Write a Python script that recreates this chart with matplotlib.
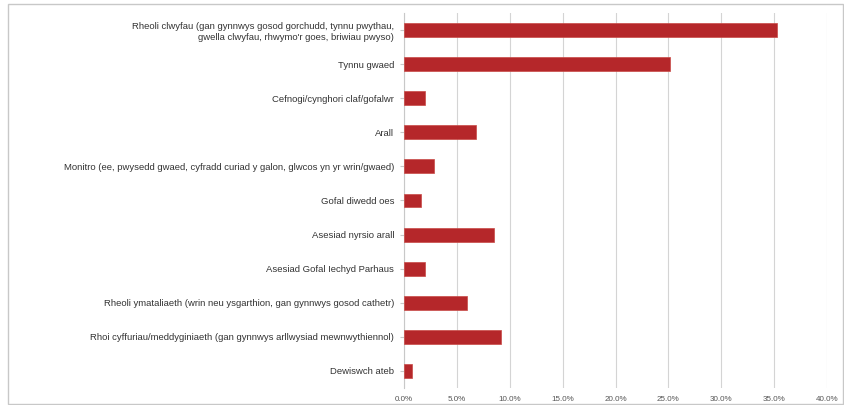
import matplotlib
matplotlib.use("Agg")
import matplotlib.pyplot as plt
from matplotlib.patches import Rectangle

categories = [
    "Rheoli clwyfau (gan gynnwys gosod gorchudd, tynnu pwythau,\ngwella clwyfau, rhwymo'r goes, briwiau pwyso)",
    "Tynnu gwaed",
    "Cefnogi/cynghori claf/gofalwr",
    "Arall",
    "Monitro (ee, pwysedd gwaed, cyfradd curiad y galon, glwcos yn yr wrin/gwaed)",
    "Gofal diwedd oes",
    "Asesiad nyrsio arall",
    "Asesiad Gofal Iechyd Parhaus",
    "Rheoli ymataliaeth (wrin neu ysgarthion, gan gynnwys gosod cathetr)",
    "Rhoi cyffuriau/meddyginiaeth (gan gynnwys arllwysiad mewnwythiennol)",
    "Dewiswch ateb",
]
values = [35.3, 25.2, 2.0, 6.8, 2.8, 1.6, 8.5, 2.0, 6.0, 9.2, 0.8]
ticks = [0, 5, 10, 15, 20, 25, 30, 35, 40]
tick_labels = ["0.0%", "5.0%", "10.0%", "15.0%", "20.0%", "25.0%", "30.0%", "35.0%", "40.0%"]

plt.rcParams['font.family'] = ['Liberation Sans', 'DejaVu Sans']

W, H = 845, 405
fig = plt.figure(figsize=(W / 100, H / 100), dpi=100)
fig.patch.set_facecolor("white")

# outer frame
fig.add_artist(Rectangle((8 / W, 1 / H), (843 - 8) / W, (401 - 1) / H,
                         transform=fig.transFigure, fill=False,
                         edgecolor="#c8c8c8", linewidth=1.0))

ax = fig.add_axes([404 / W, 1 - 388 / H, (827 - 404) / W, (388 - 13) / H])
ypos = list(range(len(categories)))
ax.barh(ypos, values, height=0.41, color="#B5272A", edgecolor="#C94A45",
        linewidth=0.5, zorder=3)
ax.set_ylim(len(categories) - 0.5, -0.5)
ax.set_xlim(0, 40)
ax.set_xticks(ticks)
ax.set_xticklabels(tick_labels, fontsize=5.8, color="#555555")
ax.set_yticks(ypos)
ax.set_yticklabels(categories, fontsize=6.8, color="#333333", linespacing=1.25)
ax.grid(axis="x", color="#d4d4d4", linewidth=0.8, zorder=0)
for s in ["top", "right", "bottom"]:
    ax.spines[s].set_visible(False)
ax.spines["left"].set_color("#c8c8c8")
ax.spines["left"].set_linewidth(0.8)
ax.tick_params(axis="x", length=0, pad=6)
ax.tick_params(axis="y", length=3, color="#c8c8c8", pad=4)
ax.set_facecolor("white")

fig.savefig("out.png", dpi=100, facecolor="white")
